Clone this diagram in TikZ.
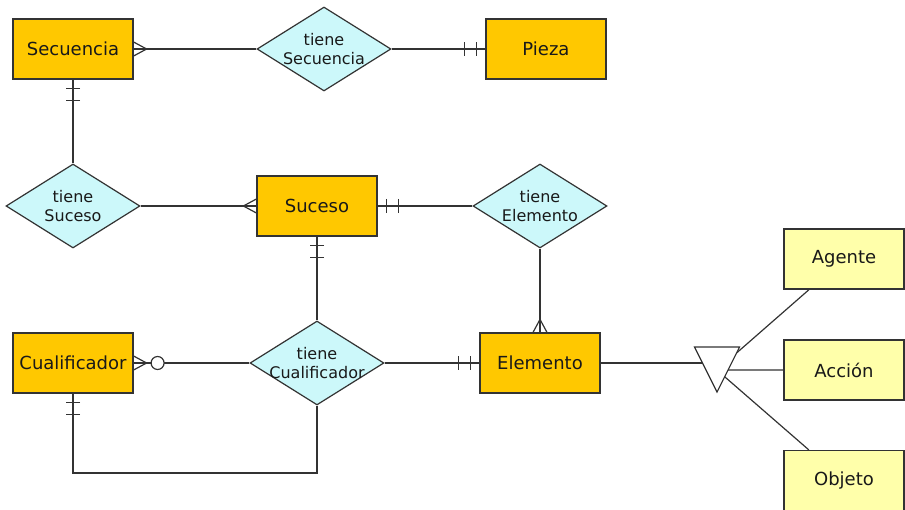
\documentclass[tikz,border=0pt]{standalone}
\usepackage{fontspec}
\setmainfont{DejaVu Sans}
\usetikzlibrary{shapes.geometric, decorations.markings, backgrounds, calc}
\definecolor{entfill}{HTML}{FFC800}
\definecolor{relfill}{HTML}{CCF8FA}
\definecolor{subfill}{HTML}{FFFFAA}
\definecolor{edgecol}{HTML}{333333}

\begin{document}
\begin{tikzpicture}[
  x=1pt, y=-1pt, line width=1.2pt,
  entity/.style={draw=edgecol, fill=entfill, minimum width=120pt,
    minimum height=60pt, inner sep=0pt, text=black!90,
    font=\fontsize{18}{21}\selectfont},
  subtype/.style={entity, fill=subfill},
  rel/.style={draw=edgecol, diamond, fill=relfill, minimum width=134pt,
    minimum height=84pt, inner sep=0pt},
  reltext/.style={font=\fontsize{16}{19}\selectfont, align=center,
    text=black!90},
  conn/.style={draw=edgecol, line width=1.2pt},
  one/.style={postaction={decorate, decoration={markings,
    mark=at position -21pt with {\draw[edgecol] (0,-7pt) -- (0,7pt);},
    mark=at position -9pt with {\draw[edgecol] (0,-7pt) -- (0,7pt);}}}},
  many/.style={postaction={decorate, decoration={markings,
    mark=at position -13pt with
      {\draw[edgecol] (13pt,7pt) -- (0,0) -- (13pt,-7pt);}}}},
  zeromany/.style={postaction={decorate, decoration={markings,
    mark=at position -24pt with
      {\draw[edgecol, fill=white] (0,0) circle (6.5pt);},
    mark=at position -13pt with
      {\draw[edgecol] (13pt,7pt) -- (0,0) -- (13pt,-7pt);}}}}
]
  \useasboundingbox (0,0) rectangle (905,510);

  % Entities
  \node[entity] (sec) at (73,49) {Secuencia};
  \node[entity] (pieza) at (546,49) {Pieza};
  \node[entity] (suc) at (317,206) {Suceso};
  \node[entity] (cual) at (73,363) {Cualificador};
  \node[entity] (elem) at (540,363) {Elemento};

  % Relationships
  \node[rel, label={[reltext]center:tiene\\Secuencia}] (tsec) at (324,49) {};
  \node[rel, label={[reltext]center:tiene\\Suceso}] (tsuc) at (73,206) {};
  \node[rel, label={[reltext]center:tiene\\Elemento}] (telem) at (540,206) {};
  \node[rel, label={[reltext]center:tiene\\Cualificador}] (tcual) at (317,363) {};

  % Subtypes
  \node[subtype] (ag) at (844,259) {Agente};
  \node[subtype] (acc) at (844,370) {Acción};
  \node[subtype] (obj) at (844,480.5) {Objeto};

  % Generalisation triangle
  \node[draw=edgecol, fill=white, isosceles triangle,
    isosceles triangle stretches, shape border rotate=-90,
    minimum width=45pt, minimum height=45pt, inner sep=0pt] (gen) at (717,361) {};
  \coordinate (genc) at ($(gen.apex)!0.5!(gen.lower side)$);

  % Connections
  \draw[conn, many] (tsec) -- (sec);
  \draw[conn, one] (tsec) -- (pieza);
  \draw[conn, one] (tsuc) -- (sec);
  \draw[conn, many] (tsuc) -- (suc);
  \draw[conn, one] (telem) -- (suc);
  \draw[conn, many] (telem) -- (elem);
  \draw[conn, one] (tcual) -- (suc);
  \draw[conn, zeromany] (tcual) -- (cual);
  \draw[conn, one] (tcual) -- (elem);
  \coordinate (loop) at (73,473);
  \draw[conn, one] (tcual.south) |- (loop) -- (cual.south);

  \begin{scope}[on background layer]
    \draw[conn] (elem.east) -- (elem.east -| gen.center);
    \draw[conn] (ag) -- (genc);
    \draw[conn] (acc) -- (genc);
    \draw[conn] (obj) -- (genc);
  \end{scope}
\end{tikzpicture}
\end{document}
